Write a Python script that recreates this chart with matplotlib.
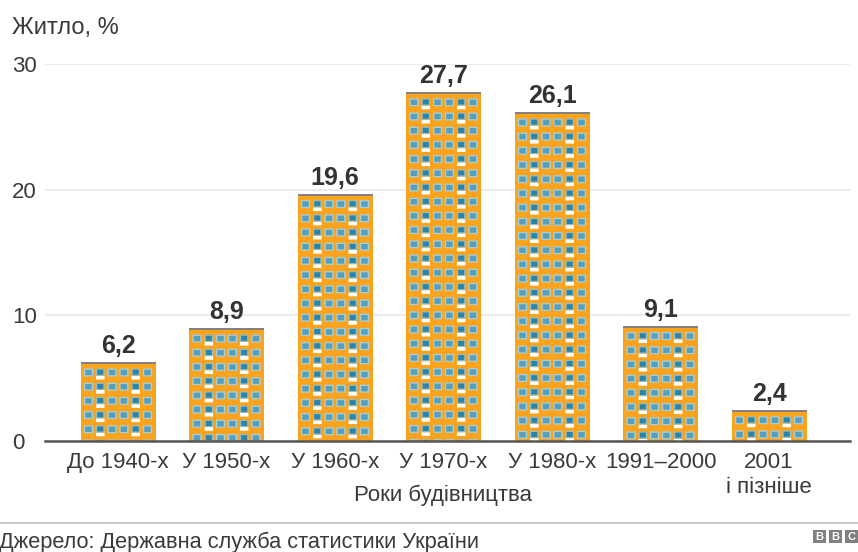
import matplotlib
matplotlib.use('Agg')
import matplotlib.pyplot as plt
from matplotlib.patches import Rectangle

plt.rcParams['font.family'] = ['Liberation Sans', 'DejaVu Sans']

categories = ['До 1940-х', 'У 1950-х', 'У 1960-х', 'У 1970-х', 'У 1980-х', '1991–2000', '2001\nі пізніше']
values = [6.2, 8.9, 19.6, 27.7, 26.1, 9.1, 2.4]
value_labels = ['6,2', '8,9', '19,6', '27,7', '26,1', '9,1', '2,4']
y_ticks = [0, 10, 20, 30]

W, H = 858, 552
text_color = '#3a3a3a'
orange = '#fba31d'

fig = plt.figure(figsize=(W / 100, H / 100), dpi=100, facecolor='w')

# axes placed in pixels, then everything is drawn in data units
left, right, top, bottom = 45, 850, 64, 441
ax = fig.add_axes([left / W, 1 - bottom / H, (right - left) / W, (bottom - top) / H])
pitch = 108.5
ax.set_xlim((left - 118) / pitch, (right - 118) / pitch)
ax.set_ylim(0, 30)
px_x = 1 / pitch
px_y = 30 / (bottom - top)

for s in ['top', 'right', 'left']:
    ax.spines[s].set_visible(False)
ax.spines['bottom'].set_color('#555555')
ax.spines['bottom'].set_linewidth(1.8)
ax.spines['bottom'].set_zorder(6)
ax.set_axisbelow(True)
ax.grid(axis='y', color='#e8e8e8', lw=1.2)
ax.set_yticks(y_ticks)
ax.tick_params(axis='both', length=0, labelcolor=text_color, labelsize=16)
ax.tick_params(axis='y', pad=0)
for lab in ax.get_yticklabels():
    lab.set_ha('left')
    lab.set_x(-33 / (right - left))
ax.set_xticks(range(len(categories)))
ax.set_xticklabels(categories, linespacing=1.25)
ax.tick_params(axis='x', pad=8)

bar_w = 75 * px_x
bars = ax.bar(range(len(values)), values, width=bar_w, color=orange, zorder=2)


def add_box(bar, xc, yc, w, h, color, z):
    # w and h in pixels, clipped to the building
    rect = Rectangle((xc - w / 2 * px_x, yc - h / 2 * px_y), w * px_x, h * px_y,
                     color=color, lw=0, zorder=z, snap=False)
    ax.add_patch(rect)
    rect.set_clip_path(bar)


def draw_windows(i, val, bar):
    # six columns of windows, rows go down from the roof until the ground
    col_off = [-29.5, -17.7, -5.9, 5.9, 17.7, 29.5]
    row = 0
    while True:
        yc = val - (9.4 + row * 14.2) * px_y
        if yc + 4 * px_y < 0:
            break
        for c, off in enumerate(col_off):
            xc = i + off * px_x
            if c in (1, 4):
                add_box(bar, xc, yc - 5.2 * px_y, 8.5, 3.6, 'white', 3)
                add_box(bar, xc, yc + 0.3 * px_y, 8.5, 7, '#8dc0cd', 4)
                add_box(bar, xc, yc + 0.3 * px_y, 6, 5, '#2b83a8', 5)
            else:
                add_box(bar, xc, yc, 9.2, 8, '#a6cfd6', 4)
                add_box(bar, xc, yc, 6.4, 5.4, '#569fbc', 5)
        row += 1


for i, (val, bar) in enumerate(zip(values, bars)):
    draw_windows(i, val, bar)
    # roof
    ax.plot([i - bar_w / 2, i + bar_w / 2], [val, val], color='#808080', lw=1.4,
            solid_capstyle='butt', zorder=6)
    ax.text(i, val + 17 * px_y, value_labels[i], ha='center', va='center', fontsize=18,
            fontweight='bold', color='#333333')

fig.text(12 / W, 1 - 28 / H, 'Житло, %', fontsize=17, color=text_color, va='center', ha='left')
fig.text(443 / W, 1 - 495 / H, 'Роки будівництва', fontsize=16, color=text_color, va='center', ha='center')

# footer
fig.add_artist(plt.Line2D([0, 1], [1 - 523 / H, 1 - 523 / H], color='#cccccc', lw=1.5))
fig.text(-1 / W, 1 - 542 / H, 'Джерело: Державна служба статистики України', fontsize=15.7,
         color=text_color, va='center', ha='left')
for x0, letter in zip([813, 829, 845], 'BBC'):
    fig.add_artist(Rectangle((x0 / W, 1 - 543 / H), 13 / W, 13 / H, color='#808080', lw=0,
                             transform=fig.transFigure))
    fig.text((x0 + 6.5) / W, 1 - 536.5 / H, letter, fontsize=8, fontweight='bold', color='white',
             va='center', ha='center')

fig.savefig('out.png', dpi=100)
